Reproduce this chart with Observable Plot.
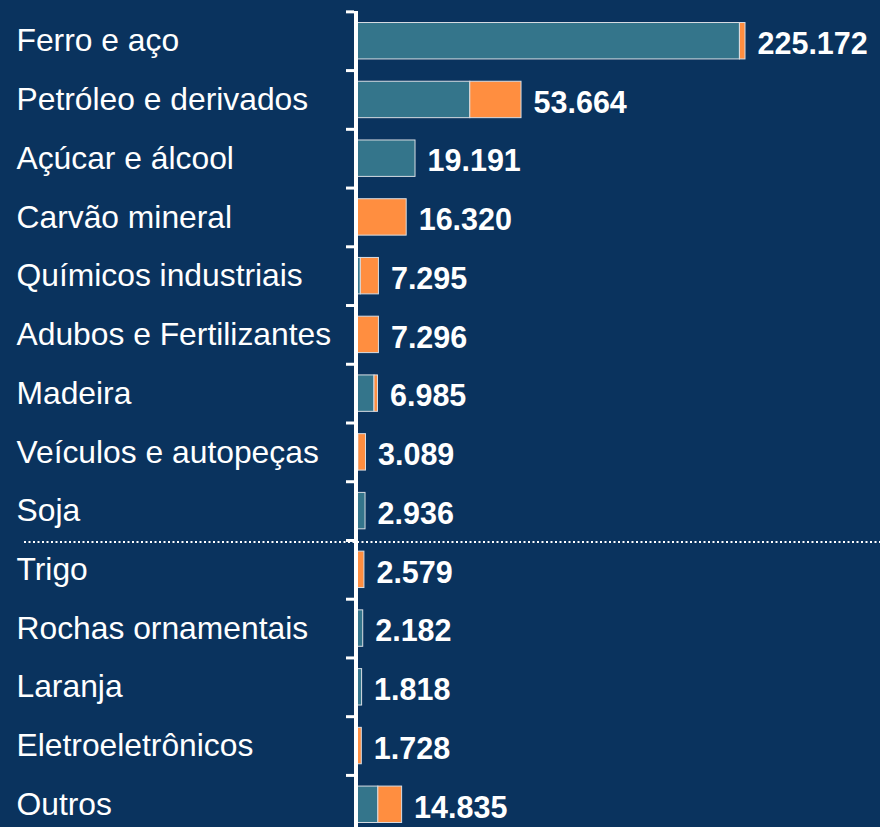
<!DOCTYPE html>
<html>
<head>
<meta charset="utf-8">
<script src="https://cdn.jsdelivr.net/npm/d3@7"></script>
<script src="https://cdn.jsdelivr.net/npm/@observablehq/plot@0.6"></script>
<style>
  html, body { margin: 0; padding: 0; background: #0a335e; overflow: hidden; }
</style>
</head>
<body>
<div id="chart"></div>
<script>
// ---- Data (thousand-unit values, labels formatted pt-BR) ----
const categories = [
  "Ferro e aço", "Petróleo e derivados", "Açúcar e álcool", "Carvão mineral",
  "Químicos industriais", "Adubos e Fertilizantes", "Madeira", "Veículos e autopeças",
  "Soja", "Trigo", "Rochas ornamentais", "Laranja", "Eletroeletrônicos", "Outros"
];
const exportacao = [220672, 37000, 19191, 0, 1400, 0, 5850, 600, 2936, 0, 2182, 1818, 0, 7100];
const importacao = [4500, 16664, 0, 16320, 5895, 7296, 1135, 2489, 0, 2579, 0, 0, 1728, 7735];
const seriesNames = ["Exportação", "Importação"];
const seriesColors = ["#34758b", "#ff8e40"];
const separatorBefore = ["Trigo"];

// ---- Derived tables ----
const rows = [];
categories.forEach((c, i) => {
  if (exportacao[i] > 0) rows.push({categoria: c, serie: seriesNames[0], valor: exportacao[i]});
  if (importacao[i] > 0) rows.push({categoria: c, serie: seriesNames[1], valor: importacao[i]});
});
const totals = categories.map((c, i) => ({categoria: c, total: exportacao[i] + importacao[i]}));
const fmt = d3.formatLocale({decimal: ",", thousands: ".", grouping: [3], currency: ["R$", ""]}).format(",d");

// ---- Layout ----
const W = 880, H = 834, MT = 11, MB = 0, ML = 354;
const padIn = 0.38, padOut = 0.196;
const step = (H - MT - MB) / (categories.length - padIn + 2 * padOut);
// broken axis: values beyond the break are compressed
const breakAt = 60000, compress = 0.4026;
const brokenAxis = v => v <= breakAt ? v : breakAt + (v - breakAt) * compress;
const bg = "#0a335e";
const font = "'Liberation Sans', Arial, Helvetica, sans-serif";

const chart = Plot.plot({
  width: W,
  height: H,
  marginTop: MT,
  marginBottom: MB,
  marginLeft: ML,
  marginRight: 0,
  style: {background: bg, fontFamily: font, color: "white", overflow: "visible"},
  x: {transform: brokenAxis, range: [356, 745], nice: false, zero: true, axis: null},
  y: {domain: categories, type: "band", paddingInner: padIn, paddingOuter: padOut, round: false},
  color: {domain: seriesNames, range: seriesColors},
  marks: [
    Plot.barX(rows, {x: "valor", y: "categoria", fill: "serie", stroke: "#d8dde3", strokeWidth: 1}),
    Plot.ruleY(separatorBefore, {
      y: d => d, dy: -step / 2 + 1.5, stroke: "#ffffff", strokeWidth: 2,
      strokeDasharray: "2,2.5", insetLeft: -(ML - 24)
    }),
    Plot.ruleX([0], {stroke: "#ffffff", strokeWidth: 4, dx: -0.5}),
    Plot.axisY({
      tickSize: 8, strokeWidth: 3, stroke: "#ffffff", dy: -step / 2,
      tickFormat: () => "", label: null
    }),
    Plot.text(categories, {
      y: d => d, text: d => d, frameAnchor: "left", textAnchor: "start",
      dx: -(ML - 16), fill: "#ffffff", fontSize: 31.8
    }),
    Plot.text(totals, {
      x: "total", y: "categoria", text: d => fmt(d.total), textAnchor: "start",
      dx: 12, dy: 3, fill: "#ffffff", fontSize: 30.5, fontWeight: "bold"
    })
  ]
});
document.getElementById("chart").appendChild(chart);
</script>
</body>
</html>
